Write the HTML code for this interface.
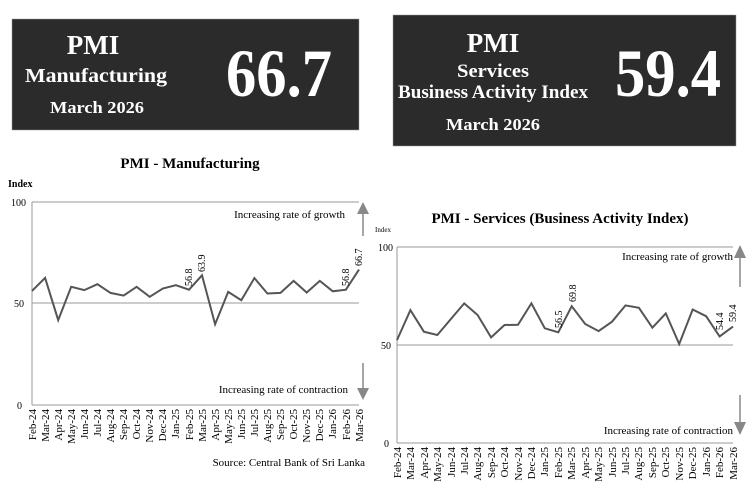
<!DOCTYPE html>
<html><head><meta charset="utf-8"><style>
html,body{margin:0;padding:0;background:#fff;}
svg{display:block;font-family:"Liberation Serif",serif;}
</style></head><body>
<svg width="750" height="493" viewBox="0 0 750 493" xmlns="http://www.w3.org/2000/svg">
<rect x="12" y="19" width="347" height="111" fill="#2b2b2b" stroke="#999" stroke-width="0.5"/>
<g fill="#fff" font-weight="bold" text-anchor="middle">
<text x="93" y="54" font-size="27">PMI</text>
<text x="96" y="82" font-size="20" textLength="142" lengthAdjust="spacingAndGlyphs">Manufacturing</text>
<text x="97" y="113" font-size="17" textLength="94" lengthAdjust="spacingAndGlyphs">March 2026</text>
<text x="279" y="96" font-size="68" textLength="106" lengthAdjust="spacingAndGlyphs">66.7</text>
</g>
<rect x="393" y="15" width="343" height="131" fill="#2b2b2b" stroke="#999" stroke-width="0.5"/>
<g fill="#fff" font-weight="bold" text-anchor="middle">
<text x="493" y="52" font-size="27">PMI</text>
<text x="493" y="77" font-size="19" textLength="72" lengthAdjust="spacingAndGlyphs">Services</text>
<text x="493" y="98" font-size="19" textLength="190" lengthAdjust="spacingAndGlyphs">Business Activity Index</text>
<text x="493" y="130" font-size="17" textLength="94" lengthAdjust="spacingAndGlyphs">March 2026</text>
<text x="668" y="96" font-size="68" textLength="106" lengthAdjust="spacingAndGlyphs">59.4</text>
</g>

<text x="190" y="168" font-size="15" font-weight="bold" text-anchor="middle">PMI - Manufacturing</text>
<text x="8" y="187" font-size="10" font-weight="bold">Index</text>
<g font-size="10" text-anchor="end">
<text x="26" y="206">100</text><text x="24" y="307">50</text><text x="22" y="409">0</text>
</g>
<line x1="32" y1="202" x2="359" y2="202" stroke="#999"/>
<line x1="32" y1="303" x2="359" y2="303" stroke="#999"/>
<line x1="32" y1="405" x2="359" y2="405" stroke="#999"/>
<line x1="32" y1="202" x2="32" y2="405" stroke="#999"/>
<text x="345" y="218" font-size="11" text-anchor="end">Increasing rate of growth</text>
<text x="348" y="393" font-size="11" text-anchor="end">Increasing rate of contraction</text>
<g stroke="#888" fill="#888" stroke-width="1.5">
<line x1="363" y1="212" x2="363" y2="236"/><polygon points="357,214 369,214 363,202" stroke="none"/>
<line x1="363" y1="363" x2="363" y2="390"/><polygon points="357,388 369,388 363,400" stroke="none"/>
<line x1="740" y1="256" x2="740" y2="287"/><polygon points="734,258 746,258 740,245" stroke="none"/>
<line x1="740" y1="395" x2="740" y2="424"/><polygon points="734,422 746,422 740,435" stroke="none"/>
</g>
<polyline fill="none" stroke="#555" stroke-width="2" points="32.0,290.9 45.1,277.9 58.2,320.1 71.2,286.8 84.3,290.1 97.4,284.2 110.5,292.9 123.6,295.6 136.6,286.8 149.7,296.8 162.8,288.5 175.9,285.2 189.0,289.7 202.0,275.3 215.1,324.2 228.2,291.9 241.3,300.2 254.4,278.1 267.4,293.5 280.5,292.9 293.6,280.9 306.7,292.5 319.8,280.9 332.8,291.3 345.9,289.7 359.0,269.6"/>
<g font-size="10">
<text transform="translate(192,286) rotate(-90)">56.8</text>
<text transform="translate(205,272) rotate(-90)">63.9</text>
<text transform="translate(349,286) rotate(-90)">56.8</text>
<text transform="translate(362,266) rotate(-90)">66.7</text>
</g>

<text x="560" y="223" font-size="15" font-weight="bold" text-anchor="middle">PMI - Services (Business Activity Index)</text>
<text x="375" y="232" font-size="7">Index</text>
<g font-size="10" text-anchor="end">
<text x="393" y="251">100</text><text x="391" y="349">50</text><text x="389" y="447">0</text>
</g>
<line x1="397" y1="247" x2="733" y2="247" stroke="#999"/>
<line x1="397" y1="345" x2="733" y2="345" stroke="#999"/>
<line x1="397" y1="443" x2="733" y2="443" stroke="#999"/>
<line x1="397" y1="247" x2="397" y2="443" stroke="#999"/>
<text x="733" y="260" font-size="11" text-anchor="end">Increasing rate of growth</text>
<text x="733" y="434" font-size="11" text-anchor="end">Increasing rate of contraction</text>
<polyline fill="none" stroke="#555" stroke-width="2" points="397.0,340.1 410.4,310.1 423.9,331.7 437.3,335.0 450.8,319.1 464.2,303.4 477.6,315.0 491.1,337.4 504.5,325.0 518.0,324.8 531.4,303.4 544.8,328.3 558.3,332.3 571.7,306.2 585.2,324.0 598.6,331.1 612.0,321.7 625.5,305.4 638.9,307.8 652.4,327.7 665.8,313.4 679.2,344.0 692.7,309.5 706.1,316.2 719.6,336.4 733.0,326.6"/>
<g font-size="10">
<text transform="translate(562,328) rotate(-90)">56.5</text>
<text transform="translate(576,302) rotate(-90)">69.8</text>
<text transform="translate(723,330) rotate(-90)">54.4</text>
<text transform="translate(736,322) rotate(-90)">59.4</text>
</g>

<g font-size="11" text-anchor="end">
<text transform="translate(36,409) rotate(-90)">Feb-24</text>
<text transform="translate(49,409) rotate(-90)">Mar-24</text>
<text transform="translate(62,409) rotate(-90)">Apr-24</text>
<text transform="translate(75,409) rotate(-90)">May-24</text>
<text transform="translate(88,409) rotate(-90)">Jun-24</text>
<text transform="translate(101,409) rotate(-90)">Jul-24</text>
<text transform="translate(114,409) rotate(-90)">Aug-24</text>
<text transform="translate(127,409) rotate(-90)">Sep-24</text>
<text transform="translate(140,409) rotate(-90)">Oct-24</text>
<text transform="translate(153,409) rotate(-90)">Nov-24</text>
<text transform="translate(166,409) rotate(-90)">Dec-24</text>
<text transform="translate(179,409) rotate(-90)">Jan-25</text>
<text transform="translate(193,409) rotate(-90)">Feb-25</text>
<text transform="translate(206,409) rotate(-90)">Mar-25</text>
<text transform="translate(219,409) rotate(-90)">Apr-25</text>
<text transform="translate(232,409) rotate(-90)">May-25</text>
<text transform="translate(245,409) rotate(-90)">Jun-25</text>
<text transform="translate(258,409) rotate(-90)">Jul-25</text>
<text transform="translate(271,409) rotate(-90)">Aug-25</text>
<text transform="translate(284,409) rotate(-90)">Sep-25</text>
<text transform="translate(297,409) rotate(-90)">Oct-25</text>
<text transform="translate(310,409) rotate(-90)">Nov-25</text>
<text transform="translate(323,409) rotate(-90)">Dec-25</text>
<text transform="translate(336,409) rotate(-90)">Jan-26</text>
<text transform="translate(350,409) rotate(-90)">Feb-26</text>
<text transform="translate(363,409) rotate(-90)">Mar-26</text>
</g>
<g font-size="11" text-anchor="end">
<text transform="translate(401,447) rotate(-90)">Feb-24</text>
<text transform="translate(414,447) rotate(-90)">Mar-24</text>
<text transform="translate(428,447) rotate(-90)">Apr-24</text>
<text transform="translate(441,447) rotate(-90)">May-24</text>
<text transform="translate(455,447) rotate(-90)">Jun-24</text>
<text transform="translate(468,447) rotate(-90)">Jul-24</text>
<text transform="translate(481,447) rotate(-90)">Aug-24</text>
<text transform="translate(495,447) rotate(-90)">Sep-24</text>
<text transform="translate(508,447) rotate(-90)">Oct-24</text>
<text transform="translate(522,447) rotate(-90)">Nov-24</text>
<text transform="translate(535,447) rotate(-90)">Dec-24</text>
<text transform="translate(548,447) rotate(-90)">Jan-25</text>
<text transform="translate(562,447) rotate(-90)">Feb-25</text>
<text transform="translate(575,447) rotate(-90)">Mar-25</text>
<text transform="translate(589,447) rotate(-90)">Apr-25</text>
<text transform="translate(602,447) rotate(-90)">May-25</text>
<text transform="translate(616,447) rotate(-90)">Jun-25</text>
<text transform="translate(629,447) rotate(-90)">Jul-25</text>
<text transform="translate(642,447) rotate(-90)">Aug-25</text>
<text transform="translate(656,447) rotate(-90)">Sep-25</text>
<text transform="translate(669,447) rotate(-90)">Oct-25</text>
<text transform="translate(683,447) rotate(-90)">Nov-25</text>
<text transform="translate(696,447) rotate(-90)">Dec-25</text>
<text transform="translate(710,447) rotate(-90)">Jan-26</text>
<text transform="translate(723,447) rotate(-90)">Feb-26</text>
<text transform="translate(737,447) rotate(-90)">Mar-26</text>
</g>
<text x="365" y="466" font-size="11" text-anchor="end">Source: Central Bank of Sri Lanka</text>
</svg>
</body></html>
